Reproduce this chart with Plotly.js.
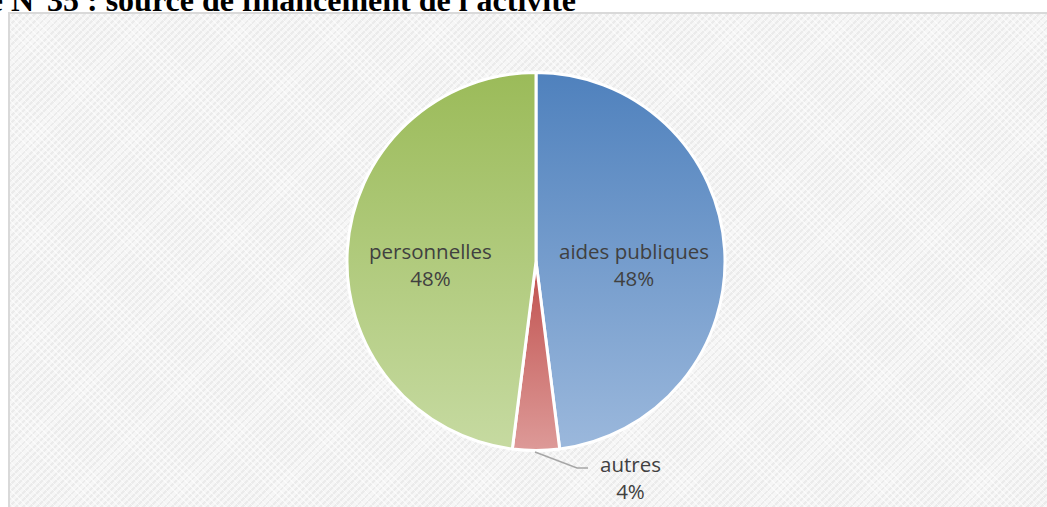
<!DOCTYPE html>
<html>
<head>
<meta charset="utf-8">
<script src="https://cdn.plot.ly/plotly-3.0.1.min.js"></script>
<style>
  html, body { margin:0; padding:0; background:#ffffff; }
  #wrap { position:relative; width:1047px; height:507px; overflow:hidden; background:#ffffff; }
  #bgpat { position:absolute; left:8px; top:12px; right:0; bottom:0;
    border-left:2px solid #d9d9d9; border-top:2px solid #d9d9d9;
    background:
      repeating-linear-gradient(45deg, rgba(255,255,255,0) 0px, rgba(255,255,255,0) 2px, rgba(255,255,255,0.55) 2px, rgba(255,255,255,0.55) 3px, rgba(255,255,255,0) 3px, rgba(255,255,255,0) 5px),
      repeating-linear-gradient(-45deg, #f6f6f6 0px, #f6f6f6 3px, #ebebeb 3px, #ebebeb 5px); }
  #chart { position:absolute; left:0; top:0; width:1047px; height:507px; }
</style>
</head>
<body>
<div id="wrap">
  <div id="bgpat"></div>
  <div id="chart"></div>
</div>
<script>
// ---- data ----
const titleText = "Figure N°35 : source de financement de l'activité";
const labels = ["aides publiques", "autres", "personnelles"];
const values = [48, 4, 48];
const colors = ["#6f95c9", "#d27977", "#b1ca7f"];
// gradient stops (top, bottom) per slice
const gradTop = ["#4f81bd", "#c0504d", "#9bbb59"];
const gradBottom = ["#9bb8dc", "#dd9a98", "#c6daa1"];

const W = 1047, H = 507;
const px = x => x / W;
const py = y => 1 - y / H;

const total = values.reduce((a, b) => a + b, 0);
const pct = values.map(v => Math.round(v / total * 100) + '%');

// label anchor positions (pixels)
const labelPos = [[634, 264], [630, 477], [430, 264]];

const trace = {
  type: 'pie',
  labels: labels,
  values: values,
  sort: false,
  direction: 'clockwise',
  rotation: 0,
  textinfo: 'none',
  hoverinfo: 'label+percent',
  marker: { colors: colors, line: { color: '#ffffff', width: 3 } },
  domain: { x: [px(347), px(725)], y: [py(450.5), py(72.5)] },
  showlegend: false
};

const annotations = labels.map((l, i) => ({
  xref: 'paper', yref: 'paper',
  x: px(labelPos[i][0]), y: py(labelPos[i][1]),
  xanchor: 'center', yanchor: 'middle',
  text: l + '<br>' + pct[i],
  showarrow: false,
  font: { family: 'Open Sans, sans-serif', size: 20.5, color: '#404040' }
}));

annotations.push({
  xref: 'paper', yref: 'paper',
  x: px(578), y: py(20),
  xanchor: 'right', yanchor: 'bottom',
  text: '<b>' + titleText + '</b>',
  showarrow: false,
  font: { family: 'Liberation Serif, Times New Roman, serif', size: 32, color: '#000000' }
});

const layout = {
  width: W, height: H,
  margin: { l: 0, r: 0, t: 0, b: 0 },
  paper_bgcolor: 'rgba(0,0,0,0)',
  plot_bgcolor: 'rgba(0,0,0,0)',
  annotations: annotations,
  shapes: [{
    type: 'path', xref: 'paper', yref: 'paper',
    path: 'M ' + px(535) + ',' + py(452) + ' L ' + px(577) + ',' + py(468) + ' L ' + px(588) + ',' + py(468),
    line: { color: '#a6a6a6', width: 1.5 }
  }]
};

Plotly.newPlot('chart', [trace], layout, { displayModeBar: false, staticPlot: true }).then(gd => {
  const NS = 'http://www.w3.org/2000/svg';
  const slices = gd.querySelectorAll('.slice path.surface');
  if (!slices.length) return;
  const svg = slices[0].ownerSVGElement;
  let defs = svg.querySelector('defs');
  if (!defs) { defs = document.createElementNS(NS, 'defs'); svg.insertBefore(defs, svg.firstChild); }
  slices.forEach((p, i) => {
    const g = document.createElementNS(NS, 'linearGradient');
    g.setAttribute('id', 'sliceGrad' + i);
    g.setAttribute('x1', '0'); g.setAttribute('y1', '0');
    g.setAttribute('x2', '0'); g.setAttribute('y2', '1');
    const s1 = document.createElementNS(NS, 'stop');
    s1.setAttribute('offset', '0'); s1.setAttribute('stop-color', gradTop[i]);
    const s2 = document.createElementNS(NS, 'stop');
    s2.setAttribute('offset', '1'); s2.setAttribute('stop-color', gradBottom[i]);
    g.appendChild(s1); g.appendChild(s2);
    defs.appendChild(g);
    p.style.fill = 'url(#sliceGrad' + i + ')';
  });
});
</script>
</body>
</html>
